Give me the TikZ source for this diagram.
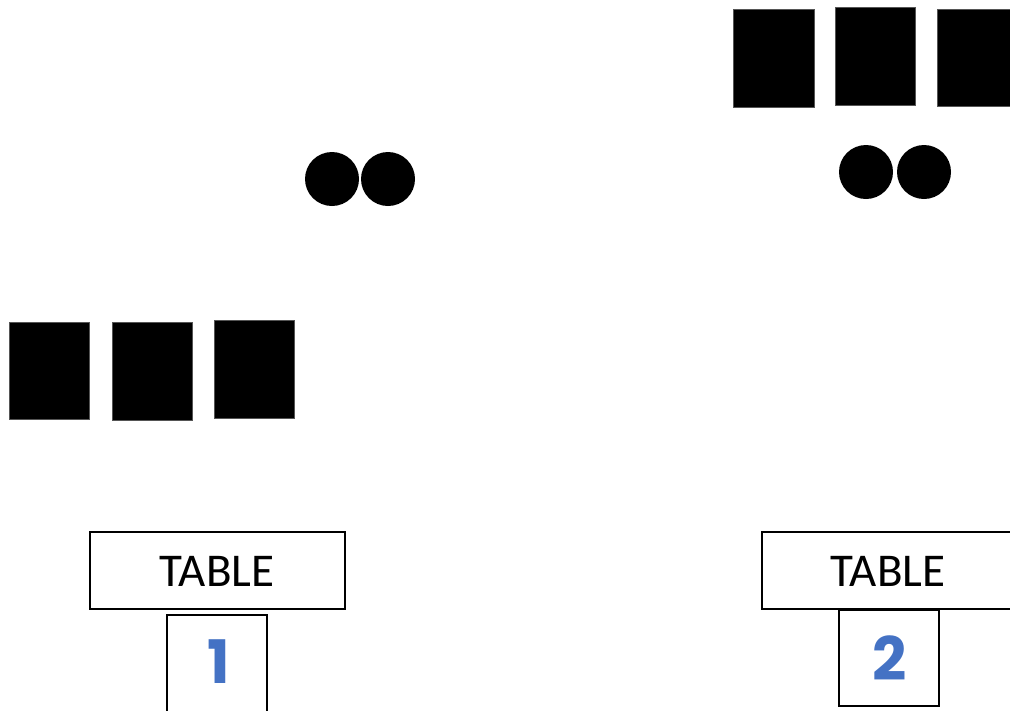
\documentclass[tikz,border=0pt]{standalone}
\usepackage{fontspec}
\setmainfont{Carlito}
\newfontfamily\numfont{Poppins}
\definecolor{numblue}{HTML}{4472C4}
\definecolor{sqedge}{HTML}{555555}
\tikzset{
  blk/.style={fill=black, draw=sqedge, line width=0.6pt},
  dot/.style={circle, fill=black, minimum size=54pt, inner sep=0pt},
  tablebox/.style={draw=black, line width=1.6pt, fill=white, inner sep=0pt},
  tabletext/.style={font=\fontsize{47}{52}\selectfont, text=black},
  numtext/.style={font=\numfont\bfseries\fontsize{60}{62}\selectfont, text=numblue}
}
\begin{document}
\begin{tikzpicture}[x=1pt,y=-1pt]
\useasboundingbox (0,0) rectangle (1010,710);
\clip (0,0) rectangle (1010,710);
\fill[white] (0,0) rectangle (1010,710);
% left group of squares
\draw[blk] (9,322) rectangle (89,419);
\draw[blk] (112,322) rectangle (192,420);
\draw[blk] (214,320) rectangle (294,418);
% left dots
\node[dot] (c1) at (332,179) {};
\node[dot] (c2) at (388,179) {};
% right group of squares
\draw[blk] (733,9) rectangle (814,107);
\draw[blk] (835,7) rectangle (915,105);
\draw[blk] (937,9) rectangle (1020,106);
% right dots
\node[dot] (c3) at (866,172) {};
\node[dot] (c4) at (924,172) {};
% table 1
\draw[tablebox] (90,532) rectangle (345,609);
\node[tabletext] (t1) at (217,571) {TABLE};
\draw[tablebox] (167,615) rectangle (267,730);
\node[numtext] (n1) at (219,662) {1};
% table 2
\draw[tablebox] (762,532) rectangle (1020,609);
\node[tabletext] (t2) at (888,571) {TABLE};
\draw[tablebox] (839,610) rectangle (939,706);
\node[numtext] (n2) at (890,658) {2};
\end{tikzpicture}
\end{document}
